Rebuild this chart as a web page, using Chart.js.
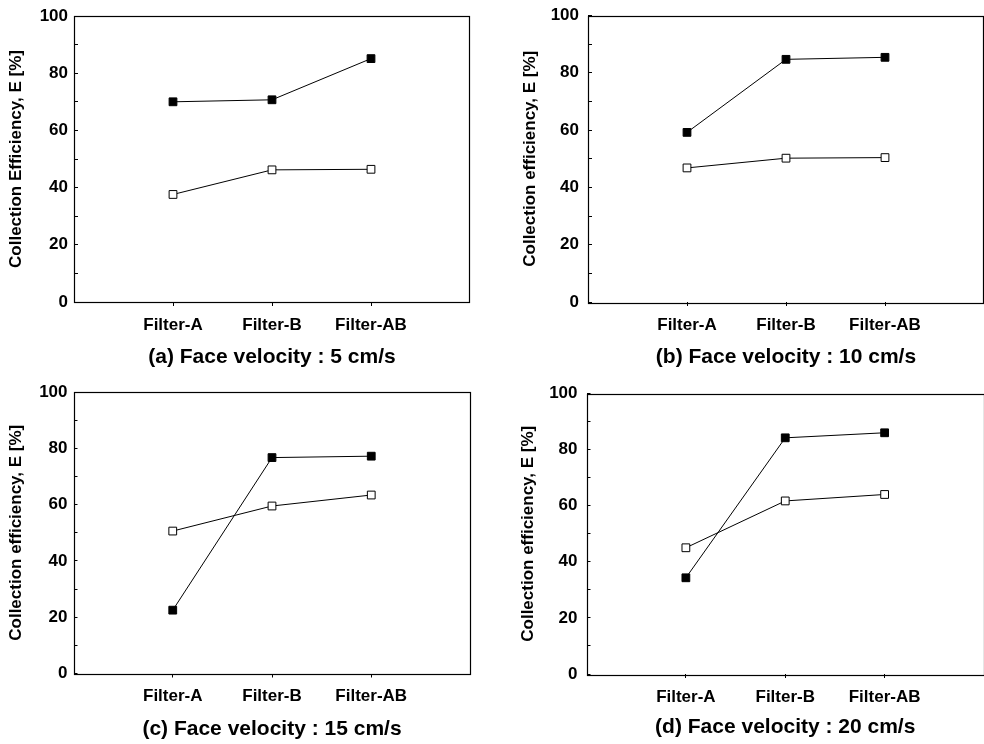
<!DOCTYPE html>
<html>
<head>
<meta charset="utf-8">
<script src="https://cdn.jsdelivr.net/npm/chart.js@4"></script>
<style>
  html, body { margin: 0; padding: 0; background: #fff; }
  body { width: 984px; height: 744px; position: relative; overflow: hidden; }
  .panel { position: absolute; }
</style>
</head>
<body>
<div class="panel" id="wrap-a" style="left:0;top:0;width:490px;height:372px"><canvas id="chart-a"></canvas></div>
<div class="panel" id="wrap-b" style="left:490px;top:0;width:494px;height:372px"><canvas id="chart-b"></canvas></div>
<div class="panel" id="wrap-c" style="left:0;top:372px;width:490px;height:372px"><canvas id="chart-c"></canvas></div>
<div class="panel" id="wrap-d" style="left:490px;top:372px;width:494px;height:372px"><canvas id="chart-d"></canvas></div>
<script>
const CATEGORIES = ['Filter-A', 'Filter-B', 'Filter-AB'];
const Y_TICKS = [0, 20, 40, 60, 80, 100];

const CAPTIONS = [
    '(a) Face velocity : 5 cm/s',
    '(b) Face velocity : 10 cm/s',
    '(c) Face velocity : 15 cm/s',
    '(d) Face velocity : 20 cm/s'
];
const Y_TITLES = [
    'Collection Efficiency, E [%]',
    'Collection efficiency, E [%]',
    'Collection efficiency, E [%]',
    'Collection efficiency, E [%]'
];

// filled squares
const FILLED_A = [70, 70.7, 85.1];
const FILLED_B = [59.2, 84.7, 85.4];
const FILLED_C = [22.5, 76.7, 77.2];
const FILLED_D = [34.3, 84.2, 86.0];

// open squares
const OPEN_A = [37.6, 46.2, 46.4];
const OPEN_B = [46.8, 50.2, 50.4];
const OPEN_C = [50.6, 59.5, 63.4];
const OPEN_D = [45.0, 61.7, 64.0];

const FONT = "'Liberation Sans', Arial, sans-serif";

// where each plot box sits inside its panel canvas
const PANELS = [
    { id: 'a', w: 490, plot: [74, 16, 470, 302], yTitleX: 16, tickGap: 6, capY: 357, filled: FILLED_A, open: OPEN_A },
    { id: 'b', w: 494, plot: [98, 15.5, 494, 302], yTitleX: 40, tickGap: 9, capY: 357, filled: FILLED_B, open: OPEN_B },
    { id: 'c', w: 490, plot: [73.5, 20, 470.5, 301.5], yTitleX: 16, tickGap: 6, capY: 357, filled: FILLED_C, open: OPEN_C },
    { id: 'd', w: 494, plot: [96.5, 21.5, 494, 302], yTitleX: 38, tickGap: 9, capY: 355, filled: FILLED_D, open: OPEN_D }
];
const H = 372;

const toPoints = vals => vals.map((v, i) => ({ x: i + 1, y: v }));

const boxPlugin = {
    id: 'box',
    afterDraw(chart) {
        const { ctx, chartArea: a } = chart;
        ctx.save();
        ctx.strokeStyle = '#000';
        ctx.lineWidth = 1.2;
        ctx.strokeRect(Math.round(a.left) + 0.5, Math.round(a.top) + 0.5,
            Math.round(a.right - a.left) - 1, Math.round(a.bottom - a.top));
        ctx.restore();
    }
};

function makePanel(p, idx) {
    const [pl, pt, pr, pb] = p.plot;
    const tickLen = 4;
    new Chart(document.getElementById('chart-' + p.id), {
        type: 'line',
        data: {
            datasets: [
                {
                    data: toPoints(p.filled),
                    borderColor: '#000',
                    borderWidth: 1,
                    pointStyle: 'rect',
                    pointRadius: 5.5,
                    pointBackgroundColor: '#000',
                    pointBorderColor: '#000',
                    pointBorderWidth: 1
                },
                {
                    data: toPoints(p.open),
                    borderColor: '#000',
                    borderWidth: 1,
                    pointStyle: 'rect',
                    pointRadius: 5.5,
                    pointBackgroundColor: '#fff',
                    pointBorderColor: '#000',
                    pointBorderWidth: 1
                }
            ]
        },
        options: {
            responsive: true,
            maintainAspectRatio: false,
            animation: false,
            layout: {
                autoPadding: false,
                padding: { left: 0, top: pt, right: p.w - pr, bottom: 0 }
            },
            plugins: { legend: { display: false }, tooltip: { enabled: false } },
            scales: {
                x: {
                    type: 'linear',
                    min: 0,
                    max: 4,
                    afterFit: s => {
                        s.height = H - pb;
                        s.paddingLeft = 0;
                        s.paddingRight = 0;
                    },
                    afterBuildTicks: s => { s.ticks = [0, 1, 2, 3, 4].map(v => ({ value: v })); },
                    border: { display: false },
                    grid: {
                        drawOnChartArea: false,
                        tickLength: tickLen,
                        tickColor: c => (c.tick && c.tick.value >= 1 && c.tick.value <= 3) ? '#000' : 'rgba(0,0,0,0)'
                    },
                    ticks: {
                        padding: 9,
                        maxRotation: 0,
                        autoSkip: false,
                        color: '#000',
                        font: { family: FONT, size: 17, weight: 'bold' },
                        callback: v => CATEGORIES[v - 1] || ''
                    },
                    title: {
                        display: true,
                        text: CAPTIONS[idx],
                        color: '#000',
                        font: { family: FONT, size: 21, weight: 'bold' },
                        padding: { top: 0, bottom: H - p.capY - 12.6 }
                    }
                },
                y: {
                    min: 0,
                    max: 100,
                    afterFit: s => {
                        s.width = pl;
                        s.paddingTop = 0;
                        s.paddingBottom = 0;
                    },
                    afterBuildTicks: s => {
                        const t = [];
                        for (let v = 0; v <= 100; v += 10) t.push({ value: v });
                        s.ticks = t;
                    },
                    border: { display: false },
                    grid: {
                        drawOnChartArea: false,
                        tickLength: -tickLen,
                        tickColor: '#000'
                    },
                    ticks: {
                        padding: p.tickGap + tickLen,
                        autoSkip: false,
                        color: '#000',
                        font: { family: FONT, size: 17, weight: 'bold' },
                        callback: v => Y_TICKS.includes(v) ? String(v) : ''
                    },
                    title: {
                        display: true,
                        text: Y_TITLES[idx],
                        color: '#000',
                        font: { family: FONT, size: 17, weight: 'bold' },
                        padding: { top: p.yTitleX - 10.2, bottom: 0 }
                    }
                }
            }
        },
        plugins: [boxPlugin]
    });
}

PANELS.forEach(makePanel);
</script>
</body>
</html>
